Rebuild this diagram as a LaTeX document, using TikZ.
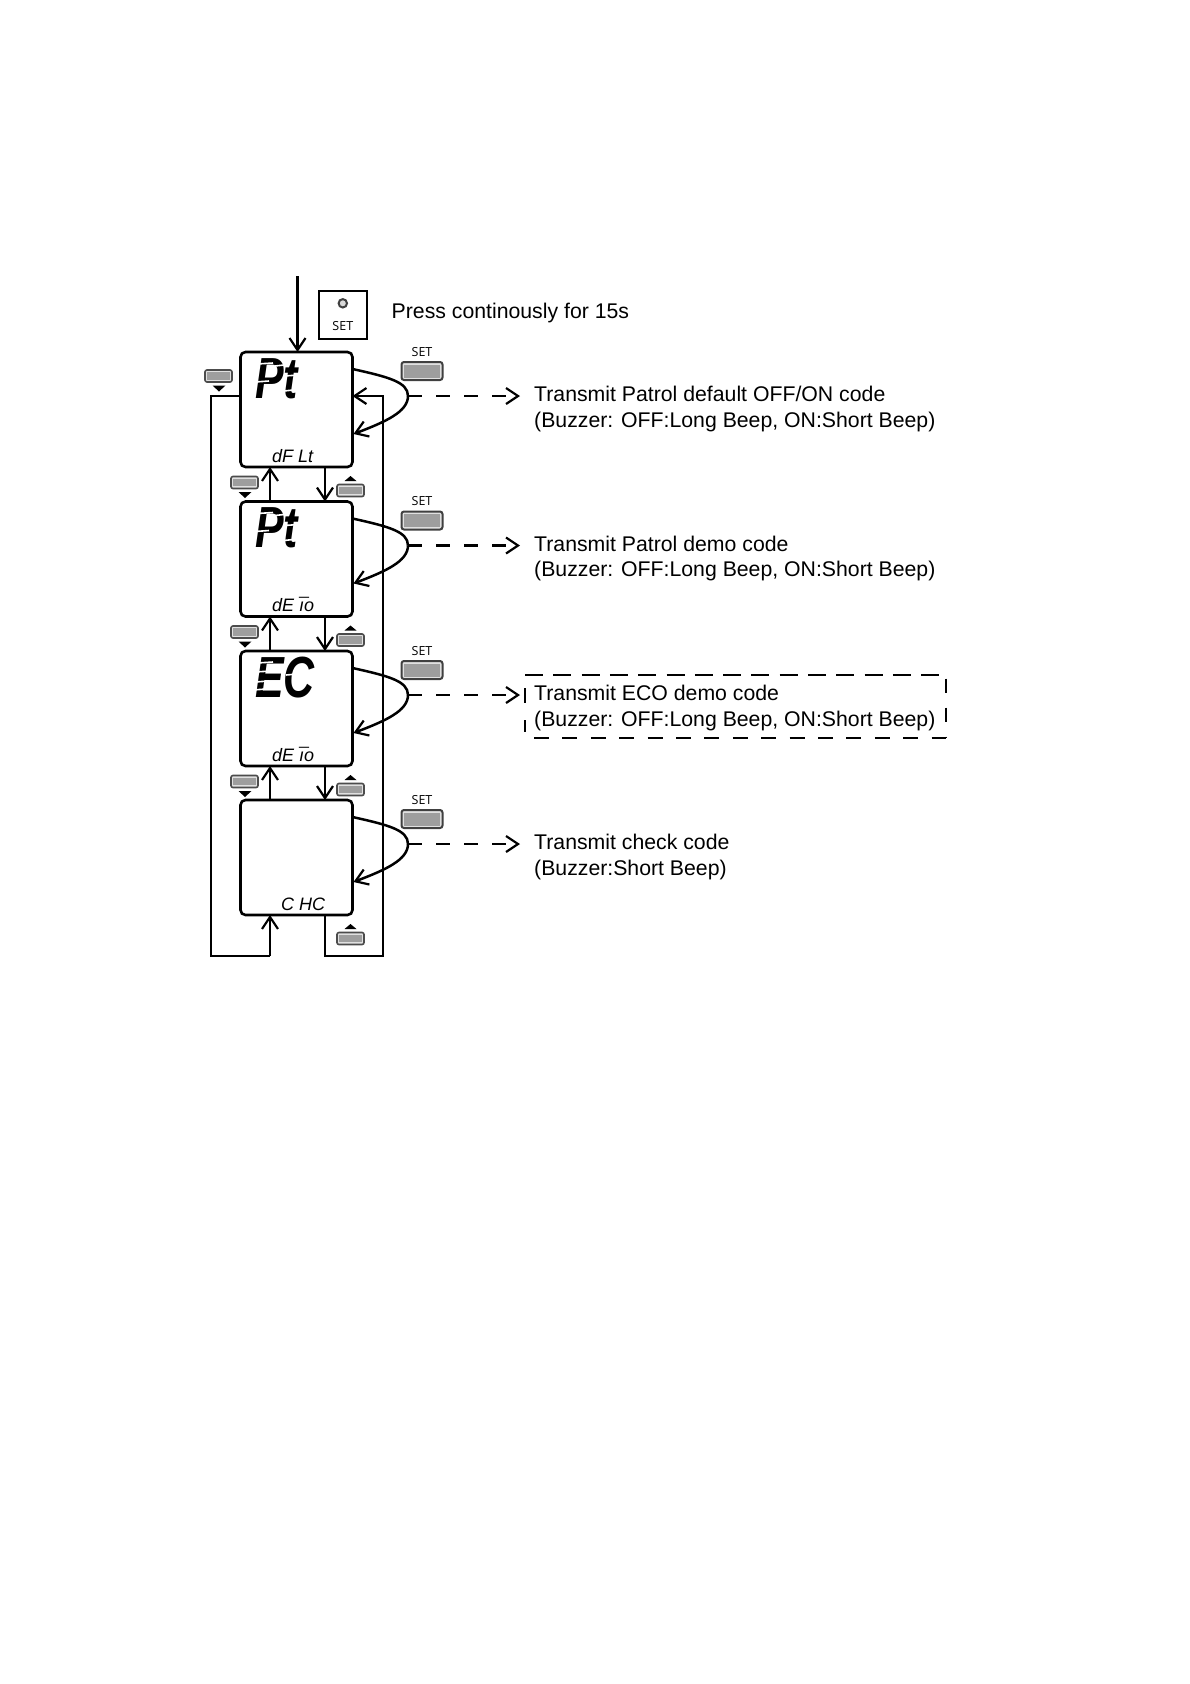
\documentclass[tikz,border=0pt]{standalone}
\usepackage{fontspec}
\setmainfont{Liberation Sans}
\newfontfamily\setfont{Open Sans}
\usetikzlibrary{arrows.meta,calc}
\tikzset{
  openhead/.style={-{Straight Barb[length=12pt,width=16pt,line width=2.2pt]}},
  wire/.style={line width=2.5pt,line join=miter},
  lcd/.style={draw=black,line width=2.6pt,rounded corners=5pt,minimum width=112pt,minimum height=115pt,inner sep=0pt,outer sep=0pt,anchor=north west,fill=white},
  note/.style={anchor=base west,font=\fontsize{21.25}{25}\selectfont,inner sep=0pt},
  setlabel/.style={font=\setfont\fontsize{12.5}{14}\selectfont,inner sep=0pt},
  setbtn/.style={draw=black!75,line width=2pt,rounded corners=2.5pt,fill=black!12,minimum width=41pt,minimum height=18pt,inner sep=0pt},
  smallbtn/.style={draw=black!70,line width=1.6pt,rounded corners=2pt,fill=black!12,minimum width=27pt,minimum height=12pt,inner sep=0pt},
  btncore/.style={fill=black!38,draw=none},
  tick/.style={fill=black,draw=none},
  bigseg/.style={anchor=base west,inner sep=0pt,font=\bfseries\itshape\fontsize{58}{58}\selectfont},
  tinyseg/.style={anchor=base west,inner sep=0pt,font=\itshape\fontsize{18}{19}\selectfont},
  gap/.style={draw=white,line width=1.6pt},
  boxdash/.style={line width=2.4pt},
}
\newcommand{\setbutton}[3]{% name, x, y
  \node[setbtn] (#1) at (#2,#3) {};
  \fill[btncore] ($(#1.south west)+(3.5,-3.5)$) rectangle ($(#1.north east)+(-3.5,3.5)$);
}
\newcommand{\minibutton}[3]{%
  \node[smallbtn] (#1) at (#2,#3) {};
  \fill[btncore] ($(#1.south west)+(3,-3)$) rectangle ($(#1.north east)+(-3,3)$);
}
\newcommand{\tridown}[2]{\fill[tick] (#1-6.5,#2) -- (#1+6.5,#2) -- (#1,#2+6) -- cycle;}
\newcommand{\triup}[2]{\fill[tick] (#1-6,#2) -- (#1+6,#2) -- (#1,#2-5) -- cycle;}
\newcommand{\ptgaps}[2]{\begin{scope}[shift={(#1,#2)}]
  \draw[gap] (2,-34) -- (18,-35);
  \draw[gap] (0,-16) -- (14,-17);
  \draw[gap] (20,-32) -- (29,-33);
  \draw[gap] (29,-22) -- (44,-23);
  \draw[gap] (29,-7) -- (38,-8);
\end{scope}}
\newcommand{\ecgaps}[2]{\begin{scope}[shift={(#1,#2)}]
  \draw[gap] (2,-34) -- (18,-35);
  \draw[gap] (0,-25) -- (16,-26);
  \draw[gap] (0,-15) -- (14,-16);
  \draw[gap] (-2,-7) -- (11,-8);
  \draw[gap] (31,-22) -- (43,-23);
\end{scope}}
\begin{document}
\begin{tikzpicture}[x=1pt,y=-1pt]
\useasboundingbox (0,0) rectangle (1190,1684);
\fill[white] (0,0) rectangle (1190,1684);
% rails behind screens
\coordinate (railL) at (211,396);
\coordinate (railR) at (383,396);
\coordinate (floorY) at (0,956);
\coordinate (upX) at (270,0);
\coordinate (dnX) at (325,0);
% screens
\node[lcd] (s1) at (240.5,352) {};
\node[lcd] (s2) at (240.5,501.5) {};
\node[lcd] (s3) at (240.5,651) {};
\node[lcd] (s4) at (240.5,800) {};
% big digits
\node[bigseg] (g1) at (255,398) {\scalebox{0.74}[1]{Pt}};
\ptgaps{255}{398}
\node[bigseg] (g2) at (255,547.5) {\scalebox{0.74}[1]{Pt}};
\ptgaps{255}{547.5}
\node[bigseg] (g3) at (255,697) {\scalebox{0.74}[1]{EC}};
\ecgaps{255}{697}
% small labels
\node[tinyseg] (t1) at (272,462) {dF Lt};
\node[tinyseg] (t2) at (272,611.5) {dE \rlap{¯}ıo};
\node[tinyseg] (t3) at (272,761) {dE \rlap{¯}ıo};
\node[tinyseg] (t4) at (281,910) {C HC};
% start
\coordinate (start) at (297.5,276);
\draw[wire,openhead] (start) -- (start |- s1.north);
\node[draw=black,line width=2.4pt,minimum width=48pt,minimum height=48pt,inner sep=0pt] (setkey) at (342.8,315) {};
\draw[line width=2pt,draw=black!75,fill=black!15] ($(setkey.north)+(0,13.5)$) circle (4.2pt);
\node[setlabel] (setkeylabel) at ($(setkey.north)+(0,36)$) {SET};
\node[note] (press) at (391.5,318) {Press continously for 15s};
% rails
\draw[wire] (s1.west |- railL) -- (railL) -- (railL |- floorY) -- (upX |- floorY);
\draw[wire,openhead] (upX |- floorY) -- (upX |- s4.south);
\draw[wire,openhead] (dnX |- s4.south) -- (dnX |- floorY) -- (railR |- floorY) -- (railR) -- (s1.east |- railR);
% up and down arrows
\draw[wire,openhead] (upX |- s2.north) -- (upX |- s1.south);
\draw[wire,openhead] (upX |- s3.north) -- (upX |- s2.south);
\draw[wire,openhead] (upX |- s4.north) -- (upX |- s3.south);
\draw[wire,openhead] (dnX |- s1.south) -- (dnX |- s2.north);
\draw[wire,openhead] (dnX |- s2.south) -- (dnX |- s3.north);
\draw[wire,openhead] (dnX |- s3.south) -- (dnX |- s4.north);
% SET loops and dashed outputs
\foreach \i/\dy in {1/352,2/501.5,3/651,4/800}{
  \coordinate (loop\i) at (408,\dy+44);
  \coordinate (out\i) at (520,\dy+44);
  \draw[wire] ($(s\i.north east)+(0,17)$) .. controls ($(s\i.north east)+(36,25)$) and (408,\dy+30) .. (loop\i);
  \draw[wire,openhead] (loop\i) .. controls (408,\dy+60) and (385,\dy+70) .. ($(s\i.north east)+(1,82)$);
  \draw[wire,dash pattern=on 14pt off 14pt,openhead] (loop\i) -- (out\i);
  \setbutton{sb\i}{422}{\dy+19}
  \node[setlabel] (sl\i) at (422,\dy) {SET};
}
% mini buttons
\minibutton{mb0}{218.5}{376}
\tridown{219}{385.5}
\minibutton{md1}{244.5}{482.5}
\tridown{245}{492}
\minibutton{md2}{244.5}{632}
\tridown{245}{641.5}
\minibutton{md3}{244.5}{781.5}
\tridown{245}{791}
\minibutton{mu1}{350.5}{490.5}
\triup{350.5}{481}
\minibutton{mu2}{350.5}{640}
\triup{350.5}{630.5}
\minibutton{mu3}{350.5}{789.5}
\triup{350.5}{780}
\minibutton{mu4}{350.5}{938.5}
\triup{350.5}{929}
% notes
\node[note] (n1a) at (534,401.5) {Transmit Patrol default OFF/ON code};
\node[note] (n1b) at (534,427) {(Buzzer: OFF:Long Beep, ON:Short Beep)};
\node[note] (n2a) at (534,551) {Transmit Patrol demo code};
\node[note] (n2b) at (534,576.5) {(Buzzer: OFF:Long Beep, ON:Short Beep)};
\node[note] (n3a) at (534,700.5) {Transmit ECO demo code};
\node[note] (n3b) at (534,726) {(Buzzer: OFF:Long Beep, ON:Short Beep)};
\node[note] (n4a) at (534,849.5) {Transmit check code};
\node[note] (n4b) at (534,875) {(Buzzer:Short Beep)};
% dashed frame
\draw[boxdash,dash pattern=on 18pt off 10.3pt] (525,675) -- (946,675);
\draw[boxdash,dash pattern=on 15pt off 13.4pt] (534,738) -- (946,738);
\draw[boxdash,dash pattern=on 14.5pt off 14.5pt] (946,678.5) -- (946,738);
\draw[boxdash,dash pattern=on 15pt off 17pt] (525,688) -- (525,732);
\end{tikzpicture}
\end{document}
